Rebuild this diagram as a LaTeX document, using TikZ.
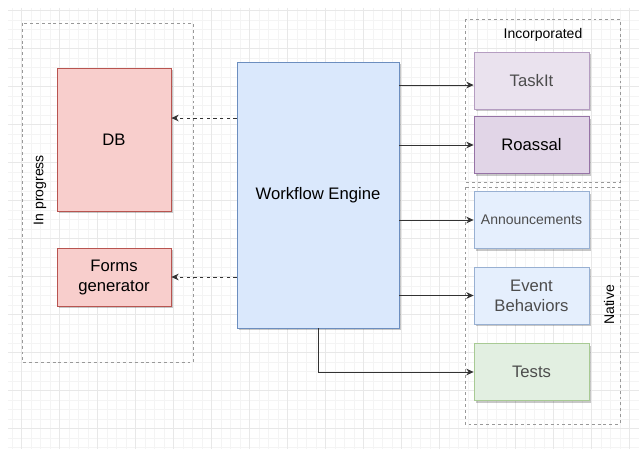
\documentclass[tikz,border=0pt]{standalone}
\usepackage{fontspec}
\setmainfont{Liberation Sans}
\usetikzlibrary{arrows.meta}
\usetikzlibrary{shadows}

\definecolor{redfill}{HTML}{F8CECC}
\definecolor{redline}{HTML}{B85450}
\definecolor{bluefill}{HTML}{DAE8FC}
\definecolor{blueline}{HTML}{6C8EBF}
\definecolor{paleblue}{HTML}{E5EFFD}
\definecolor{palebluel}{HTML}{98B0D2}
\definecolor{purplefill}{HTML}{E1D5E7}
\definecolor{purpleline}{HTML}{9673A6}
\definecolor{palepurple}{HTML}{EAE2EE}
\definecolor{palepurplel}{HTML}{B59DC1}
\definecolor{palegreen}{HTML}{E2EFE1}
\definecolor{palegreenl}{HTML}{A8CA94}
\definecolor{gridmin}{HTML}{F4F4F4}
\definecolor{gridmaj}{HTML}{E8E8E8}

\tikzset{box/.style = {draw, rectangle, align=center, inner sep=2pt,
                       line width=.6pt,
                       font=\fontsize{12.5}{15}\selectfont,
                       drop shadow={shadow xshift=1.6pt, shadow yshift=-1.6pt,
                                    fill=black, opacity=.22}}}
\tikzset{redbox/.style = {box, fill=redfill, draw=redline,
                          minimum width=85.5pt}}
\tikzset{sidebox/.style = {box, minimum width=86.25pt, minimum height=42.75pt}}
\tikzset{faded/.style = {text=black!70}}
\tikzset{group/.style = {draw=black!40, line width=.5pt,
                         dash pattern=on 2.2pt off 2.2pt}}
\tikzset{grouplabel/.style = {font=\fontsize{10.5}{12}\selectfont}}
\tikzset{flow/.style = {draw=black!80, line width=.6pt,
                        -{Stealth[length=5.5pt, width=5pt, inset=1.8pt]}}}
\tikzset{dashflow/.style = {flow, dash pattern=on 2.5pt off 2.5pt}}

\begin{document}
\begin{tikzpicture}[x=0.75pt, y=-0.75pt]
    \useasboundingbox (0, 0) rectangle (639, 453);

    % background grid
    \foreach \i in {0,...,65}
        \draw [gridmin, line width=.5pt] ({12.2 + 9.5*\i}, 8) -- ++(0, 441);
    \foreach \j in {0,...,46}
        \draw [gridmin, line width=.5pt] (8, {10.7 + 9.5*\j}) -- ++(631, 0);
    \foreach \i in {0,...,16}
        \draw [gridmaj, line width=.5pt] ({21.7 + 38*\i}, 8) -- ++(0, 441);
    \foreach \j in {0,...,11}
        \draw [gridmaj, line width=.5pt] (8, {10.7 + 38*\j}) -- ++(631, 0);

    % groups
    \draw [group] (22, 23) rectangle (193, 362);
    \draw [group] (465, 19) rectangle (620, 182);
    \draw [group] (465, 187) rectangle (620, 424);

    \node (inprog) [grouplabel, rotate=90] at (40, 190) {In progress};
    \node (incorp) [grouplabel] at (543, 35) {Incorporated};
    \node (native) [grouplabel, rotate=90] at (609, 305) {Native};

    % boxes
    \node (wf) [box, fill=bluefill, draw=blueline,
                minimum width=121.5pt, minimum height=199.5pt]
        at (318, 195) {Workflow Engine};

    \node (db) [redbox, minimum height=107.25pt] at (114, 139.5) {DB};
    \node (forms) [redbox, minimum height=43.5pt] at (114, 277) {Forms\\generator};

    \node (taskit) [sidebox, faded, fill=palepurple, draw=palepurplel]
        at (531.5, 80.5) {TaskIt};
    \node (roassal) [sidebox, fill=purplefill, draw=purpleline]
        at (531.5, 145) {Roassal};
    \node (announce) [sidebox, faded, fill=paleblue, draw=palebluel,
                      font=\fontsize{10.5}{13}\selectfont]
        at (531.5, 220) {Announcements};
    \node (events) [sidebox, faded, fill=paleblue, draw=palebluel]
        at (531.5, 295.5) {Event\\Behaviors};
    \node (tests) [sidebox, faded, fill=palegreen, draw=palegreenl]
        at (531.5, 372) {Tests};

    % connectors
    \coordinate (dbin) at ([yshift=16.1pt]db.east);
    \draw [dashflow] (wf.west |- dbin) -- (dbin);
    \draw [dashflow] (wf.west |- forms.east) -- (forms.east);

    \coordinate (taskin) at ([yshift=-3.4pt]taskit.west);
    \draw [flow] (wf.east |- taskin) -- (taskin);
    \draw [flow] (wf.east |- roassal.west) -- (roassal.west);
    \draw [flow] (wf.east |- announce.west) -- (announce.west);
    \draw [flow] (wf.east |- events.west) -- (events.west);
    \draw [flow] (wf.south) |- (tests.west);
\end{tikzpicture}
\end{document}
